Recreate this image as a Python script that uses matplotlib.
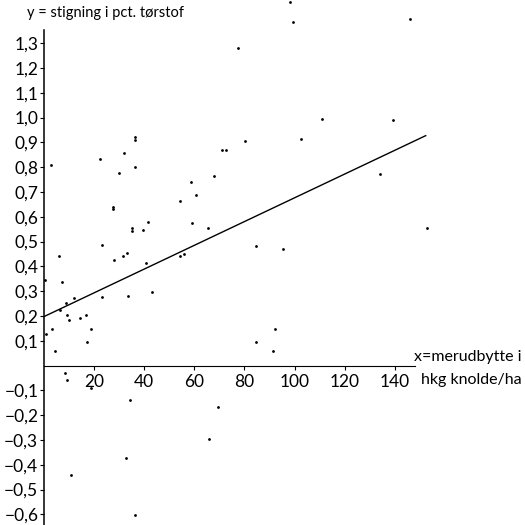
import matplotlib
matplotlib.use('Agg')
import matplotlib.pyplot as plt
import numpy as np

plt.rcParams['font.family'] = ['Lato', 'DejaVu Sans']

# merudbytte (hkg knolde/ha) and stigning i pct. tørstof
x_vals = [77.3, 80.2, 70.9, 72.6, 36.4, 36.4, 32.1, 22.4, 36.4, 2.9,
          30.0, 68.0, 98.2, 99.2, 146.0, 111.0, 139.4, 102.4, 134.0, 58.7,
          60.7, 54.3, 27.7, 27.7, 59.0, 65.6, 41.4, 39.7, 35.3, 35.3,
          23.1, 84.6, 6.2, 33.0, 31.4, 28.1, 40.6, 54.3, 56.0, 0.5,
          7.4, 23.1, 33.7, 43.3, 12.0, 8.7, 6.5, 9.1, 10.2, 14.4,
          16.8, 18.8, 3.1, 0.7, 17.1, 84.6, 153.0, 95.5, 92.2, 4.5,
          8.5, 9.1, 18.8, 34.4, 69.6, 66.0, 32.8, 10.7, 36.4, 91.3]
y_vals = [1.279, 0.905, 0.870, 0.868, 0.922, 0.909, 0.856, 0.833, 0.800, 0.808,
          0.775, 0.765, 1.466, 1.386, 1.396, 0.993, 0.990, 0.912, 0.772, 0.739,
          0.688, 0.665, 0.640, 0.630, 0.573, 0.553, 0.580, 0.546, 0.553, 0.542,
          0.486, 0.483, 0.443, 0.455, 0.441, 0.425, 0.414, 0.440, 0.448, 0.345,
          0.335, 0.275, 0.280, 0.298, 0.273, 0.253, 0.224, 0.204, 0.183, 0.190,
          0.204, 0.147, 0.146, 0.126, 0.096, 0.096, 0.553, 0.468, 0.146, 0.058,
          -0.030, -0.058, -0.092, -0.139, -0.166, -0.298, -0.374, -0.442, -0.603, 0.058]

# regression line end points
line_x = [0, 152.3]
line_y = [0.197, 0.927]

x_ticks = [20, 40, 60, 80, 100, 120, 140]
y_ticks = [-0.6, -0.5, -0.4, -0.3, -0.2, -0.1, 0.1, 0.2, 0.3, 0.4, 0.5, 0.6,
           0.7, 0.8, 0.9, 1.0, 1.1, 1.2, 1.3]

def fmt(v):
    s = '%.1f' % abs(v)
    s = s.replace('.', ',')
    return ('\u2212' + s) if v < 0 else s

fig = plt.figure(figsize=(5.25, 5.25), dpi=100)
ax = fig.add_axes([0, 0, 1, 1])
ax.set_xlim(-17.46, 191.9)
ax.set_ylim(-0.643, 1.474)

for s in ['top', 'right']:
    ax.spines[s].set_visible(False)
ax.spines['left'].set_position(('data', 0))
ax.spines['bottom'].set_position(('data', 0))
ax.spines['left'].set_bounds(-0.643, 1.352)
ax.spines['bottom'].set_bounds(0, 148)
ax.spines['left'].set_linewidth(1.1)
ax.spines['bottom'].set_linewidth(0.8)

ax.set_xticks(x_ticks)
ax.set_xticklabels([str(t) for t in x_ticks])
ax.set_yticks(y_ticks)
ax.set_yticklabels([fmt(t) for t in y_ticks])
ax.tick_params(axis='both', direction='out', length=3, width=0.8,
               labelsize=12.5, colors='black')
ax.tick_params(axis='x', pad=3)
ax.tick_params(axis='y', pad=1)

ax.plot(line_x, line_y, color='black', lw=1.0)
ax.scatter(x_vals, y_vals, s=4, color='black', linewidths=0, clip_on=False)

ax.text(-6.7, 1.42, 'y = stigning i pct. tørstof', fontsize=10.5,
        ha='left', va='center')
ax.text(190.5, 0.005, 'x=merudbytte i', fontsize=11.5, ha='right', va='bottom')
ax.text(190.5, -0.032, 'hkg knolde/ha', fontsize=11.5, ha='right', va='top')

fig.savefig('out.png', dpi=100)
